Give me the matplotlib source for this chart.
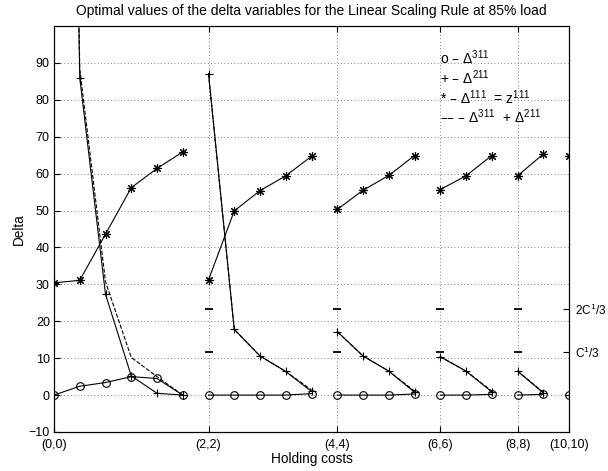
import matplotlib
matplotlib.use("Agg")
import matplotlib.pyplot as plt
import numpy as np

# Data: one list per holding-cost group
group_labels = ["(0,0)", "(2,2)", "(4,4)", "(6,6)", "(8,8)", "(10,10)"]
d311 = [[0, 2.4, 3.4, 5.0, 4.5, 0],
        [0, 0, 0, 0, 0.4],
        [0, 0, 0, 0.3],
        [0, 0, 0.2],
        [0, 0.2],
        [0]]
d211 = [[500, 86, 27.3, 5.2, 0.5, 0],
        [87.1, 17.8, 10.6, 6.4, 1.0],
        [17.2, 10.6, 6.5, 0.8],
        [10.4, 6.5, 0.9],
        [6.5, 0.6],
        [0]]
d111 = [[30.4, 31.1, 43.6, 56.2, 61.4, 65.9],
        [31.2, 49.9, 55.4, 59.4, 64.7],
        [50.3, 55.5, 59.5, 64.9],
        [55.7, 59.4, 64.9],
        [59.4, 65.3],
        [64.9]]
c_third = 11.7
c_levels = [c_third, 2 * c_third]
c_labels = [r"C$^1$/3", r"2C$^1$/3"]

fs = 9
plt.rcParams['font.family'] = ['Liberation Sans', 'DejaVu Sans']
plt.rcParams['mathtext.default'] = 'regular'
fig = plt.figure(figsize=(6.08, 4.71), dpi=100)
ax = fig.add_axes([54/608, 1-432/471, (569-54)/608, (432-26)/471])

starts = []
pos = 0
for g in d311:
    starts.append(pos)
    pos += len(g)

lw = 0.8
for i in range(len(d311)):
    x = starts[i] + np.arange(len(d311[i]))
    a = np.array(d311[i]); b = np.array(d211[i]); c = np.array(d111[i])
    ax.plot(x, a + b, '--', color='black', lw=lw)
    ax.plot(x, a, '-', color='black', lw=lw, marker='o', mfc='none', ms=5.5, mew=0.8)
    ax.plot(x, b, '-', color='black', lw=lw, marker='+', ms=6, mew=0.8)
    ax.plot(x, c, '-', color='black', lw=lw, marker=(8, 2, 0), ms=6.5, mew=0.8)
    if 0 < i < len(d311) - 1:
        for lev in c_levels:
            ax.plot([starts[i]], [lev], marker='_', color='black', ms=6, mew=1.3)

ax.set_xlim(0, starts[-1])
ax.set_ylim(-10, 100)
ax.set_xticks(starts)
ax.set_xticklabels(group_labels, fontsize=fs)
ax.set_yticks(np.arange(-10, 100, 10))
ax.tick_params(axis='y', labelsize=fs, direction='in', length=4, right=True, pad=3)
ax.tick_params(axis='x', labelsize=fs, direction='in', length=4, top=True, pad=5)
ax.grid(True, linestyle=(0, (1, 3)), color='#555555', lw=0.6)
for s in ax.spines.values():
    s.set_linewidth(0.8)

ax2 = ax.twinx()
ax2.set_ylim(ax.get_ylim())
ax2.set_yticks(c_levels)
ax2.set_yticklabels(c_labels, fontsize=8.5)
ax2.tick_params(axis='y', direction='in', length=4, pad=4)

ax.set_title("Optimal values of the delta variables for the Linear Scaling Rule at 85% load",
             fontsize=10, pad=8)
ax.set_xlabel("Holding costs", fontsize=9.8, labelpad=1)
ax.set_ylabel("Delta", fontsize=9.8, labelpad=2)

tx = 15.0
tfs = 10
ax.text(tx, 91.3, "o \u2013 $\\Delta^{311}$", fontsize=tfs, va='center')
ax.text(tx, 86.0, "+ \u2013 $\\Delta^{211}$", fontsize=tfs, va='center')
ax.text(tx, 80.7, "* \u2013 $\\Delta^{111}$  = z$^{111}$", fontsize=tfs, va='center')
ax.text(tx, 75.5, "\u2013\u2013 \u2013 $\\Delta^{311}$  + $\\Delta^{211}$", fontsize=tfs, va='center')

fig.savefig("out.png", dpi=100)
